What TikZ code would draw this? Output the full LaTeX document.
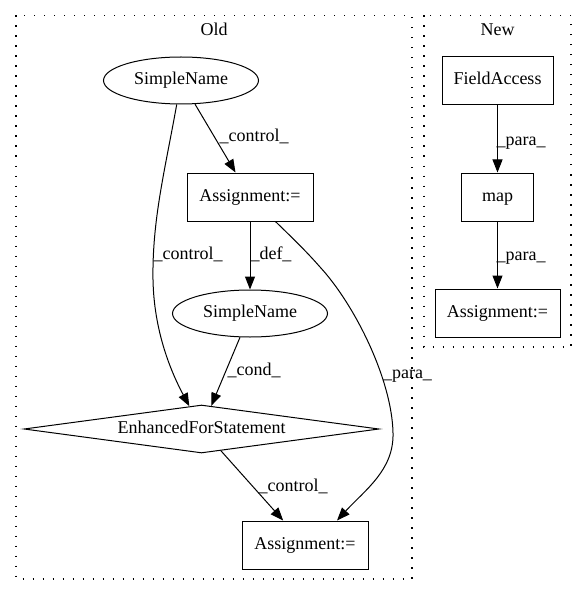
\documentclass[tikz,border=0pt]{standalone}
\usepackage{fontspec}
\setmainfont{Liberation Serif}
\usetikzlibrary{arrows.meta,shapes.geometric}
\begin{document}
\begin{tikzpicture}[x=1pt,y=-1pt,
  every node/.style={font=\fontsize{18}{21}\selectfont, text height=12pt, text depth=4pt},
  box/.style={draw, rectangle, minimum width=#1, minimum height=48pt, inner sep=0pt, line width=1pt},
  ell/.style={draw, ellipse, minimum width=155pt, minimum height=47pt, inner sep=0pt, line width=1pt},
  dia/.style={draw, diamond, shape aspect=7.4, minimum width=355pt, minimum height=48pt, inner sep=0pt, line width=1pt},
  lbl/.style={inner sep=0pt},
  edge/.style={-{Triangle[length=13pt,width=10pt]}, line width=1pt},
  cluster/.style={dash pattern=on 1.5pt off 8.5pt, line width=1.3pt}
]
\useasboundingbox (0,0) rectangle (587,596);
% clusters
\draw[cluster] (16,15.5) rectangle (412,579);
\draw[cluster] (424,15.5) rectangle (571,347);
\node[lbl] (oldt) at (214,32) {Old};
\node[lbl] (newt) at (497.5,32) {New};
% Old nodes
\node[ell] (sn1) at (181,80.5) {SimpleName};
\node[box=126pt] (a1) at (250,197) {Assignment:=};
\node[ell] (sn2) at (250,313.5) {SimpleName};
\node[dia] (efs) at (201.5,429) {EnhancedForStatement};
\node[box=126pt] (a2) at (305,545) {Assignment:=};
% New nodes
\node[box=111pt] (fa) at (497.5,81) {FieldAccess};
\node[box=72pt] (map) at (497.5,197) {map};
\node[box=125pt] (a3) at (497.5,313) {Assignment:=};
% Old edges
\draw[edge] (sn1) -- (a1);
\node[lbl] (l1) at (254,138) {\_control\_};
\draw[edge] (sn1) .. controls (165,170) and (152,220) .. (153,280)
                  .. controls (154,330) and (170,370) .. (efs);
\node[lbl] (l2) at (188,255) {\_control\_};
\draw[edge] (a1) -- (sn2);
\node[lbl] (l3) at (271,255) {\_def\_};
\draw[edge] (a1) .. controls (305,250) and (312,258) .. (320,267)
                 .. controls (355,305) and (392,380) .. (393,433)
                 .. controls (394,470) and (365,490) .. ([xshift=32pt]a2.north);
\node[lbl] (l4) at (407.5,374) {\_para\_};
\draw[edge] (sn2) -- (efs);
\node[lbl] (l5) at (254,371) {\_cond\_};
\draw[edge] (efs) -- (a2);
\node[lbl] (l6) at (293,487) {\_control\_};
% New edges
\draw[edge] (fa) -- (map);
\node[lbl] (l7) at (521,142) {\_para\_};
\draw[edge] (map) -- (a3);
\node[lbl] (l8) at (521,256) {\_para\_};
\end{tikzpicture}
\end{document}
